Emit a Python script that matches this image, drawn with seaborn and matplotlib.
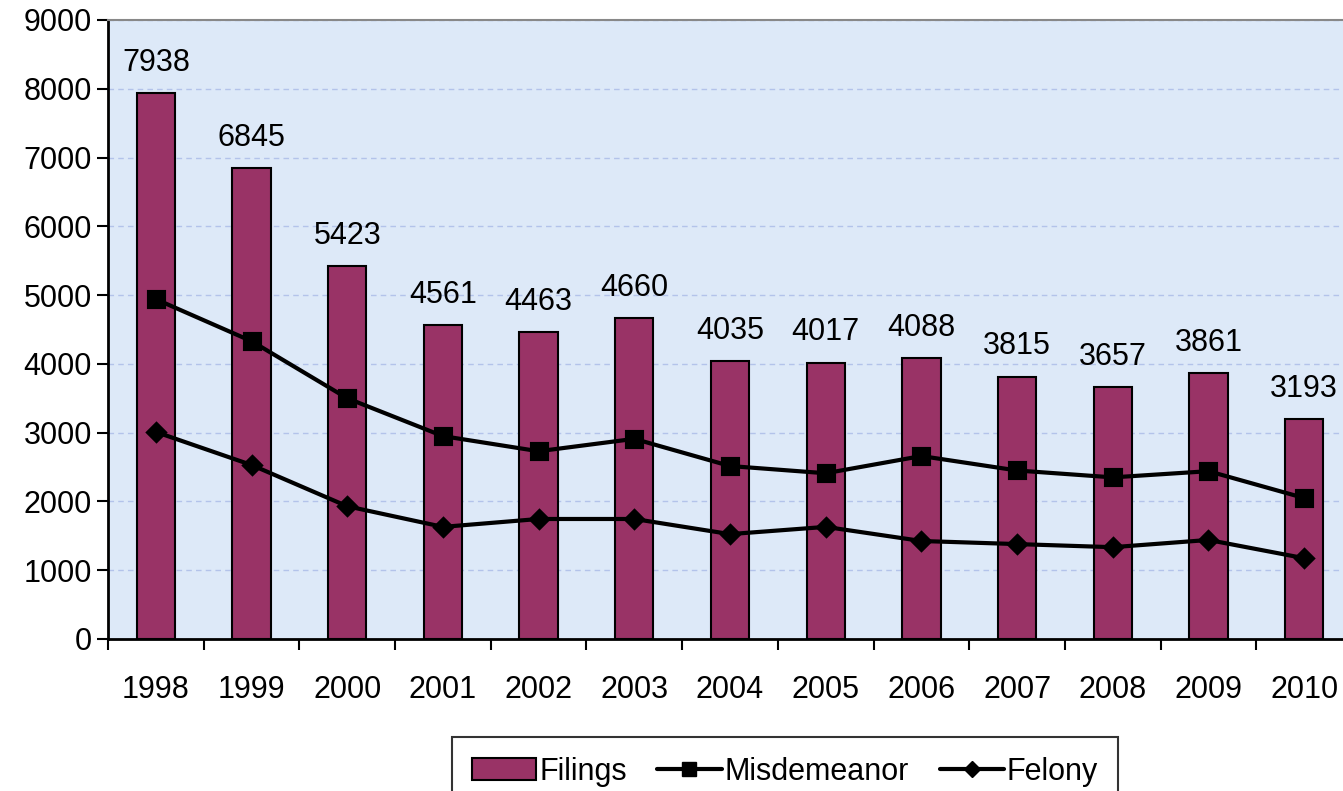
import matplotlib
matplotlib.use("Agg")
import matplotlib.pyplot as plt
import seaborn as sns
from matplotlib.patches import Patch
from matplotlib.lines import Line2D
from matplotlib.ticker import MultipleLocator, FixedLocator

years = ["1998", "1999", "2000", "2001", "2002", "2003", "2004",
         "2005", "2006", "2007", "2008", "2009", "2010"]
filings = [7938, 6845, 5423, 4561, 4463, 4660, 4035, 4017, 4088, 3815, 3657, 3861, 3193]
misdemeanor = [4940, 4330, 3500, 2950, 2730, 2910, 2515, 2410, 2660, 2450, 2350, 2440, 2050]
felony = [3010, 2530, 1930, 1630, 1745, 1745, 1525, 1630, 1425, 1380, 1335, 1440, 1175]

bar_color = "#993366"
bg_color = "#dde9f8"

sns.set_style("white")
plt.rcParams["font.family"] = ["Liberation Sans", "DejaVu Sans"]
plt.rcParams["text.color"] = "black"
plt.rcParams["xtick.color"] = "black"
plt.rcParams["ytick.color"] = "black"

fig = plt.figure(figsize=(13.43, 7.91), dpi=100)
ax = fig.add_axes([108 / 1343, 152 / 791, 1244 / 1343, 619 / 791])
ax.set_facecolor(bg_color)

sns.barplot(x=years, y=filings, color=bar_color, width=0.4, saturation=1,
            edgecolor="black", linewidth=1.5, ax=ax, zorder=2)
sns.pointplot(x=years, y=misdemeanor, color="black", marker="s", markersize=11,
              linewidth=3, ax=ax, zorder=3)
sns.pointplot(x=years, y=felony, color="black", marker="D", markersize=9,
              linewidth=3, ax=ax, zorder=3)

ax.bar_label(ax.containers[0], labels=[str(v) for v in filings], padding=11,
             fontsize=22, color="black")

ax.set_ylim(0, 9000)
ax.set_xlim(-0.5, 12.5)
ax.yaxis.set_major_locator(MultipleLocator(1000))
ax.yaxis.grid(True, linestyle=(0, (4, 3)), color="#b3c3ea", linewidth=1)
ax.set_axisbelow(True)

ax.xaxis.set_minor_locator(FixedLocator([i - 0.5 for i in range(len(years) + 1)]))
ax.tick_params(axis="x", which="major", length=0, labelsize=22, pad=26)
ax.tick_params(axis="x", which="minor", length=8, width=1.5, color="black", direction="out", bottom=True)
ax.tick_params(axis="y", length=8, width=1.5, color="black", direction="out", labelsize=22, left=True)

for side in ["left", "bottom"]:
    ax.spines[side].set_color("black")
    ax.spines[side].set_linewidth(2)
ax.spines["top"].set_color("#888888")
ax.spines["top"].set_linewidth(1.5)
ax.spines["right"].set_visible(False)
ax.set_xlabel("")
ax.set_ylabel("")

handles = [
    Patch(facecolor=bar_color, edgecolor="black", linewidth=1.5),
    Line2D([], [], color="black", linewidth=3, marker="s", markersize=10),
    Line2D([], [], color="black", linewidth=3, marker="D", markersize=8),
]
leg = fig.legend(handles, ["Filings", "Misdemeanor", "Felony"], ncol=3,
                 loc="upper center", bbox_to_anchor=(785 / 1343, 1 - 737 / 791),
                 fontsize=22, frameon=True, fancybox=False, edgecolor="black",
                 handlelength=2.1, handletextpad=0.1, columnspacing=1.0,
                 borderpad=0.65, borderaxespad=0)
leg.get_frame().set_linewidth(1.5)

fig.savefig("out.png", dpi=100)
